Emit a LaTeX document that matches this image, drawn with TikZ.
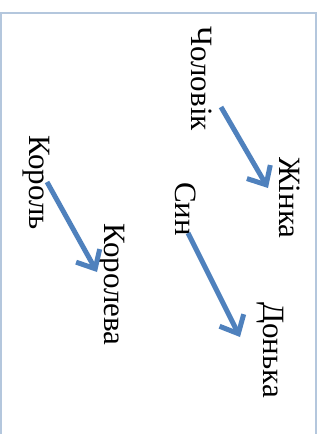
\documentclass[tikz,border=0pt]{standalone}
\usepackage{fontspec}
\setmainfont{Liberation Serif}
\usetikzlibrary{arrows.meta}
\definecolor{linkblue}{HTML}{4F81BD}
\definecolor{framecol}{HTML}{B4C7DD}
\tikzset{
  word/.style={rotate=-90, anchor=base west, inner sep=0pt, font=\fontsize{31}{36}\selectfont},
  link/.style={draw=linkblue, line width=5pt,
    -{Straight Barb[length=15pt, width=27pt, line width=5pt]}}
}
\begin{document}
\begin{tikzpicture}[x=1pt, y=-1pt]
  \useasboundingbox (0,0) rectangle (323,434);
  % page frame, lower edge runs off the picture
  \draw[framecol, line width=2pt] (1,440) -- (1,13) -- (316,13) -- (316,440);

  % words, reading downwards
  \node[word] (man)   at (191,26)  {Чоловік};
  \node[word] (woman) at (279,157) {Жінка};
  \node[word] (son)   at (175,182) {Син};
  \node[word] (dau)   at (263,302) {Донька};
  \node[word] (king)  at (30,135)  {Король};
  \node[word] (queen) at (104,223) {Королева};

  % arrow ends
  \coordinate (m1) at (221,107);
  \coordinate (w1) at (268,188);
  \coordinate (s1) at (188,233);
  \coordinate (d1) at (240,337);
  \coordinate (k1) at (47,182);
  \coordinate (q1) at (97,272);

  \draw[link] (m1) -- (w1);
  \draw[link] (s1) -- (d1);
  \draw[link] (k1) -- (q1);
\end{tikzpicture}
\end{document}
